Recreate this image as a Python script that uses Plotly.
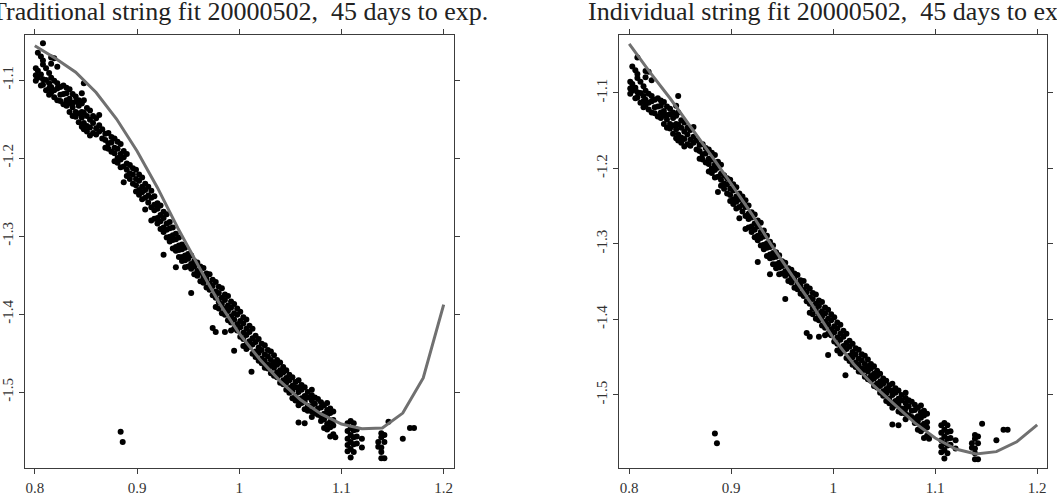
import plotly.graph_objects as go

# ---------------- data ----------------
fit_grid = [0.80, 0.82, 0.84, 0.86, 0.88, 0.90, 0.92, 0.94, 0.96, 0.98, 1.00,
            1.02, 1.04, 1.06, 1.08, 1.10, 1.12, 1.14, 1.16, 1.18, 1.20]
traditional_fit = [-1.056, -1.072, -1.090, -1.116, -1.150, -1.191, -1.238, -1.290,
                   -1.338, -1.385, -1.425, -1.458, -1.486, -1.510, -1.528, -1.541,
                   -1.547, -1.546, -1.527, -1.482, -1.388]
individual_fit = [-1.035, -1.072, -1.107, -1.144, -1.182, -1.2205, -1.260, -1.3026,
                  -1.342, -1.382, -1.4245, -1.459, -1.488, -1.512, -1.537, -1.557,
                  -1.5715, -1.578, -1.575, -1.562, -1.5397]

string_x = [0.801, 0.803, 0.806, 0.808, 0.811, 0.814, 0.816, 0.819, 0.822, 0.825,
            0.828, 0.831, 0.834, 0.837, 0.840, 0.843, 0.846, 0.848, 0.851, 0.854,
            0.857, 0.860, 0.863, 0.866, 0.869, 0.872, 0.875, 0.878, 0.881, 0.884,
            0.886, 0.887, 0.890, 0.893, 0.896, 0.899, 0.902, 0.905, 0.908, 0.911,
            0.914, 0.917, 0.920, 0.923, 0.926, 0.929, 0.932, 0.935, 0.938, 0.941,
            0.944, 0.947, 0.950, 0.953, 0.956, 0.959, 0.962, 0.965, 0.968, 0.971,
            0.974, 0.977, 0.980, 0.983, 0.986, 0.989, 0.992, 0.995, 0.998, 1.001,
            1.004, 1.007, 1.010, 1.012, 1.013, 1.016, 1.019, 1.022, 1.025, 1.028,
            1.031, 1.034, 1.037, 1.040, 1.043, 1.046, 1.049, 1.052, 1.055, 1.058,
            1.061, 1.064, 1.067, 1.071, 1.074, 1.077, 1.080, 1.083, 1.086, 1.089,
            1.092, 1.094, 1.106, 1.109, 1.112, 1.115, 1.120, 1.136, 1.139, 1.142,
            1.146, 1.160, 1.167, 1.171]
string_y = [
    [-1.085, -1.094, -1.101], [-1.065, -1.088, -1.097], [-1.070, -1.093, -1.107],
    [-1.053, -1.075, -1.080, -1.099, -1.106], [-1.085, -1.100, -1.113],
    [-1.091, -1.104, -1.111, -1.119], [-1.071, -1.079, -1.097, -1.109, -1.116],
    [-1.072, -1.101, -1.113, -1.122], [-1.083, -1.104, -1.111, -1.126],
    [-1.109, -1.119, -1.127], [-1.107, -1.118, -1.131], [-1.110, -1.117, -1.126, -1.133],
    [-1.112, -1.124, -1.130, -1.141], [-1.118, -1.129, -1.135, -1.146],
    [-1.121, -1.128, -1.141, -1.147], [-1.126, -1.133, -1.143, -1.154],
    [-1.117, -1.130, -1.141, -1.148, -1.160], [-1.104, -1.126, -1.142, -1.155, -1.163],
    [-1.136, -1.146, -1.159, -1.166], [-1.139, -1.151, -1.161, -1.171],
    [-1.146, -1.155, -1.168], [-1.149, -1.162, -1.170], [-1.145, -1.158, -1.166],
    [-1.163, -1.175], [-1.169, -1.177, -1.187], [-1.168, -1.181, -1.188],
    [-1.173, -1.180, -1.192], [-1.175, -1.187, -1.194, -1.204],
    [-1.179, -1.188, -1.200, -1.206], [-1.182, -1.195, -1.202, -1.212, -1.551],
    [-1.564], [-1.191, -1.199, -1.211, -1.231], [-1.195, -1.207, -1.215, -1.223],
    [-1.209, -1.220, -1.227], [-1.213, -1.221, -1.233], [-1.215, -1.227, -1.235, -1.243],
    [-1.221, -1.229, -1.241, -1.247], [-1.225, -1.237, -1.244, -1.253],
    [-1.233, -1.241, -1.251, -1.266], [-1.237, -1.248, -1.257],
    [-1.242, -1.251, -1.263, -1.280], [-1.249, -1.260, -1.267, -1.278],
    [-1.258, -1.265, -1.277, -1.284], [-1.261, -1.273, -1.281, -1.291],
    [-1.269, -1.277, -1.289, -1.295, -1.324], [-1.272, -1.284, -1.292, -1.302],
    [-1.282, -1.290, -1.301, -1.307], [-1.289, -1.299, -1.305, -1.316],
    [-1.297, -1.304, -1.314, -1.319, -1.340], [-1.302, -1.312, -1.318, -1.327],
    [-1.311, -1.317, -1.327, -1.332], [-1.315, -1.325, -1.331, -1.340],
    [-1.323, -1.329, -1.339], [-1.325, -1.336, -1.342, -1.373], [-1.332, -1.339, -1.349],
    [-1.334, -1.345, -1.351], [-1.339, -1.347, -1.358], [-1.341, -1.353, -1.360],
    [-1.348, -1.355, -1.366], [-1.349, -1.361, -1.369], [-1.356, -1.364, -1.376, -1.418],
    [-1.359, -1.371, -1.379, -1.391, -1.423], [-1.365, -1.373, -1.385, -1.393],
    [-1.367, -1.379, -1.387, -1.399], [-1.375, -1.382, -1.393, -1.401, -1.423],
    [-1.377, -1.389, -1.396, -1.408], [-1.384, -1.392, -1.403, -1.411, -1.421],
    [-1.387, -1.399, -1.407, -1.419, -1.447], [-1.393, -1.401, -1.413, -1.421],
    [-1.397, -1.409, -1.417, -1.429], [-1.404, -1.412, -1.424, -1.432, -1.441],
    [-1.407, -1.419, -1.427, -1.439, -1.445], [-1.415, -1.423, -1.435, -1.442],
    [-1.474], [-1.419, -1.431, -1.439, -1.451], [-1.428, -1.436, -1.448, -1.455],
    [-1.432, -1.443, -1.450, -1.460], [-1.438, -1.446, -1.457, -1.463],
    [-1.440, -1.452, -1.460, -1.469], [-1.446, -1.454, -1.465, -1.470],
    [-1.448, -1.459, -1.466, -1.476], [-1.453, -1.462, -1.469, -1.479],
    [-1.459, -1.465, -1.475, -1.481], [-1.462, -1.472, -1.478, -1.488],
    [-1.468, -1.475, -1.485, -1.490], [-1.472, -1.482, -1.488, -1.497],
    [-1.478, -1.485, -1.495, -1.501], [-1.481, -1.492, -1.498, -1.508],
    [-1.487, -1.494, -1.505, -1.511], [-1.485, -1.494, -1.500, -1.511, -1.517, -1.539],
    [-1.491, -1.497, -1.508, -1.514], [-1.494, -1.505, -1.512, -1.522, -1.540],
    [-1.500, -1.507, -1.518, -1.524], [-1.497, -1.504, -1.511, -1.518, -1.525, -1.532],
    [-1.507, -1.515, -1.527], [-1.509, -1.521, -1.529], [-1.513, -1.520, -1.531, -1.537],
    [-1.517, -1.528, -1.535, -1.546], [-1.514, -1.523, -1.530, -1.541, -1.548],
    [-1.521, -1.527, -1.538, -1.545, -1.557], [-1.525, -1.536, -1.543, -1.554],
    [-1.558], [-1.540, -1.550, -1.560, -1.568, -1.576],
    [-1.537, -1.546, -1.555, -1.564, -1.573, -1.584],
    [-1.540, -1.549, -1.558, -1.567, -1.577], [-1.548, -1.557, -1.566],
    [-1.560, -1.571], [-1.564, -1.570], [-1.553, -1.558, -1.571, -1.577, -1.585],
    [-1.555, -1.564, -1.585], [-1.538], [-1.560], [-1.546], [-1.546],
]

x_tick_vals = [0.8, 0.9, 1.0, 1.1, 1.2]
x_tick_text = ["0.8", "0.9", "1", "1.1", "1.2"]
y_tick_vals = [-1.5, -1.4, -1.3, -1.2, -1.1]
y_tick_text = ["-1.5", "-1.4", "-1.3", "-1.2", "-1.1"]

titles = ["Traditional string fit 20000502,\u00a0 45 days to exp.",
          "Individual string fit 20000502,\u00a0 45 days to exp."]

# ---------------- figure ----------------
pts_x = [x for x, ys in zip(string_x, string_y) for _ in ys]
pts_y = [y for ys in string_y for y in ys]

FONT = "Liberation Serif, Times New Roman, serif"
W, H = 1057, 498

fig = go.Figure()
for i, fit in enumerate([traditional_fit, individual_fit]):
    xa = "x" if i == 0 else "x2"
    ya = "y" if i == 0 else "y2"
    fig.add_trace(go.Scatter(x=pts_x, y=pts_y, mode="markers", xaxis=xa, yaxis=ya,
                             marker=dict(color="black", size=6, line=dict(width=0)),
                             showlegend=False, hoverinfo="skip"))
    fig.add_trace(go.Scatter(x=fit_grid, y=fit, mode="lines", xaxis=xa, yaxis=ya,
                             line=dict(color="#707070", width=3),
                             showlegend=False, hoverinfo="skip"))

axis_common = dict(showgrid=False, zeroline=False, showline=True, linecolor="#3c3c3c",
                   linewidth=1.3, mirror="allticks", ticks="outside", ticklen=5,
                   tickwidth=1.2, tickcolor="#3c3c3c",
                   tickfont=dict(family=FONT, size=15, color="#333333"))

x_dom = [[17 / W, 449 / W], [616 / W, 1047 / W]]
y_dom = [30 / H, 463 / H]
y_ranges = [[-1.5974, -1.0423], [-1.5967, -1.0232]]

layout = dict(width=W, height=H, margin=dict(l=0, r=0, t=0, b=0),
              paper_bgcolor="white", plot_bgcolor="white", showlegend=False)
for i in range(2):
    sfx = "" if i == 0 else "2"
    layout["xaxis" + sfx] = dict(axis_common, domain=x_dom[i], range=[0.7903, 1.2097],
                                 tickvals=x_tick_vals, ticktext=x_tick_text,
                                 anchor="y" + sfx, ticklabelstandoff=1)
    layout["yaxis" + sfx] = dict(axis_common, domain=y_dom, range=y_ranges[i],
                                 tickvals=y_tick_vals, ticktext=y_tick_text,
                                 anchor="x" + sfx, tickangle=-90)
fig.update_layout(**layout)

centers = [(17 + 449) / 2 / W, (616 + 1047) / 2 / W]
for i in range(2):
    fig.add_annotation(text=titles[i], xref="paper", yref="paper", x=centers[i],
                       y=(H - 11) / H, xanchor="center", yanchor="middle",
                       showarrow=False, font=dict(family=FONT, size=26, color="#222222"))

fig.write_html("out.html")
